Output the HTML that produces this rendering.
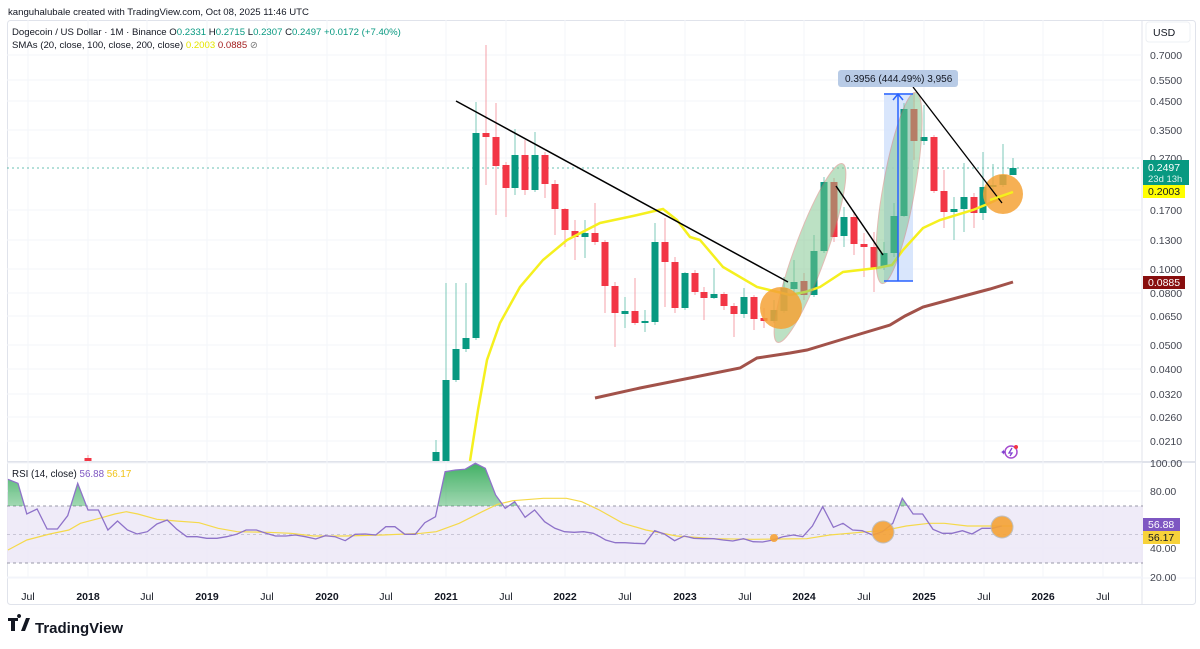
<!DOCTYPE html>
<html><head><meta charset="utf-8"><style>
html,body{margin:0;padding:0;background:#fff;width:1200px;height:649px;overflow:hidden}
svg{display:block;font-family:"Liberation Sans",sans-serif}
</style></head><body>
<svg id="s" width="1200" height="649" viewBox="0 0 1200 649" xmlns="http://www.w3.org/2000/svg">
<defs>
<linearGradient id="gf" x1="0" y1="0" x2="0" y2="1"><stop offset="0" stop-color="#22a34a" stop-opacity="0.85"/><stop offset="1" stop-color="#22a34a" stop-opacity="0.05"/></linearGradient>
<clipPath id="ob"><rect x="0" y="462" width="1143" height="44"/></clipPath>
<clipPath id="mp"><rect x="7" y="20" width="1135" height="441"/></clipPath>
</defs>
<text x="8" y="15" font-size="9.6" fill="#131722">kanguhalubale created with TradingView.com, Oct 08, 2025 11:46 UTC</text>
<rect x="7.5" y="20.5" width="1188" height="584" fill="none" stroke="#e0e3eb" rx="3"/>
<line x1="1142" y1="20" x2="1142" y2="605" stroke="#e0e3eb"/>
<line x1="7" y1="462" x2="1195" y2="462" stroke="#e0e3eb" stroke-width="2"/>
<line x1="7" y1="578" x2="1195" y2="578" stroke="#f0f3fa"/>
<g id="grid" stroke="#f3f5fa" stroke-width="1"></g>
<rect x="7" y="506" width="1136" height="57" fill="#ece8f7" opacity="0.85"/>
<line x1="7" y1="506" x2="1143" y2="506" stroke="#9a98a8" stroke-dasharray="3,3"/>
<line x1="7" y1="534.5" x2="1143" y2="534.5" stroke="#b0aec0" stroke-dasharray="3,3" opacity="0.6"/>
<line x1="7" y1="563" x2="1143" y2="563" stroke="#9a98a8" stroke-dasharray="3,3"/>
<line x1="7" y1="168" x2="1142" y2="168" stroke="#089981" stroke-dasharray="2,3" opacity="0.6"/>
<g id="main" clip-path="url(#mp)"></g>
<g id="rsi"></g>
<text x="12" y="35" font-size="9.6" fill="#131722">Dogecoin / US Dollar · 1M · Binance <tspan fill="#131722">O</tspan><tspan fill="#089981">0.2331</tspan> <tspan fill="#131722">H</tspan><tspan fill="#089981">0.2715</tspan> <tspan fill="#131722">L</tspan><tspan fill="#089981">0.2307</tspan> <tspan fill="#131722">C</tspan><tspan fill="#089981">0.2497</tspan> <tspan fill="#089981">+0.0172 (+7.40%)</tspan></text>
<text x="12" y="48" font-size="9.6" fill="#131722">SMAs (20, close, 100, close, 200, close) <tspan fill="#e6e600">0.2003</tspan> <tspan fill="#a31d1d">0.0885</tspan> <tspan fill="#777">⊘</tspan></text>
<text x="12" y="477" font-size="9.8" fill="#131722">RSI (14, close) <tspan fill="#7e57c2">56.88</tspan> <tspan fill="#f0c419">56.17</tspan></text>
<rect x="1146" y="22" width="44" height="20" rx="3" fill="#fff" stroke="#eef0f4"/>
<text x="1153" y="36" font-size="10.5" fill="#131722">USD</text>
<g id="ax" font-size="10.5" fill="#434651"></g>
<rect x="1143" y="160" width="46" height="25" fill="#089981"/>
<text x="1148" y="171" font-size="10.5" fill="#fff">0.2497</text>
<text x="1148" y="182" font-size="9.5" fill="#d8f3ee">23d 13h</text>
<rect x="1143" y="185" width="42" height="13" fill="#ffff00"/>
<text x="1148" y="195" font-size="10.5" fill="#131722">0.2003</text>
<rect x="1143" y="276" width="42" height="13" fill="#880e0e"/>
<text x="1148" y="286" font-size="10.5" fill="#fff">0.0885</text>
<rect x="1143" y="518" width="37" height="13" fill="#7e57c2"/>
<text x="1148" y="528" font-size="10.5" fill="#fff">56.88</text>
<rect x="1143" y="531" width="37" height="13" fill="#f7d23a"/>
<text x="1148" y="541" font-size="10.5" fill="#131722">56.17</text>
<rect x="838" y="70" width="120" height="17" rx="3" fill="#b8cbe6"/>
<text x="845" y="82" font-size="10" fill="#131722">0.3956 (444.49%) 3,956</text>
<g transform="translate(1011,452)"><circle r="6" fill="none" stroke="#a64dd0" stroke-width="1.5"/><path d="M1,-4 L-2,1 L1,1 L-1,4" stroke="#7e3fd0" fill="none" stroke-width="1.3"/><circle cx="5" cy="-5" r="2" fill="#f23645"/><text x="-11" y="3" font-size="8" fill="#7e3fd0">✦</text></g>
<g transform="translate(8,618)"><path d="M0,0 h10 v3 h-3 v10 h-4 v-10 h-3z M11,0 a2,2 0 1 1 0.1,0 z" fill="#131722"/><path d="M13,13 l5,-13 h4 l-5,13z" fill="#131722"/></g>
<text x="35" y="633" font-size="15" font-weight="bold" fill="#131722">TradingView</text>
</svg>
<script>
var NS="http://www.w3.org/2000/svg";
function el(p,t,a){var e=document.createElementNS(NS,t);for(var k in a)e.setAttribute(k,a[k]);p.appendChild(e);return e;}
var S=document.getElementById('s'),M=document.getElementById('main'),R=document.getElementById('rsi'),G=document.getElementById('grid'),A=document.getElementById('ax');
var prices=[["0.7000",55],["0.5500",80],["0.4500",101],["0.3500",130],["0.2700",158],["0.1700",210],["0.1300",240],["0.1000",269],["0.0800",293],["0.0650",316],["0.0500",345],["0.0400",369],["0.0320",394],["0.0260",417],["0.0210",441]];
prices.forEach(function(p){el(G,'line',{x1:7,x2:1142,y1:p[1],y2:p[1]});var t=el(A,'text',{x:1150,y:p[1]+4});t.textContent=p[0];});
[["100.00",463],["80.00",491],["40.00",548],["20.00",577]].forEach(function(p){el(G,'line',{x1:7,x2:1142,y1:p[1],y2:p[1]});var t=el(A,'text',{x:1150,y:p[1]+4});t.textContent=p[0];});
var tl=[["Jul",28,0],["2018",88,1],["Jul",147,0],["2019",207,1],["Jul",267,0],["2020",327,1],["Jul",386,0],["2021",446,1],["Jul",506,0],["2022",565,1],["Jul",625,0],["2023",685,1],["Jul",745,0],["2024",804,1],["Jul",864,0],["2025",924,1],["Jul",984,0],["2026",1043,1],["Jul",1103,0]];
tl.forEach(function(p){el(G,'line',{x1:p[1],x2:p[1],y1:20,y2:578});var t=el(A,'text',{x:p[1],y:600,'text-anchor':'middle','font-weight':p[2]?'bold':'normal',fill:'#131722'});t.textContent=p[0];});
var C=[[88,458,461,455,465,0],[436,452,461,440,465,1],[446,380,461,283,465,1],[456,349,380,283,382,1],[466,338,349,283,352,1],[476,133,338,102,340,1],[486,133,137,45,185,0],[496,137,166,103,215,0],[506,165,188,162,217,0],[515,155,188,129,195,1],[525,155,190,140,195,0],[535,155,190,132,192,1],[545,155,184,152,198,0],[555,184,209,180,235,0],[565,209,230,208,247,0],[575,231,237,220,260,0],[585,233,237,220,258,1],[595,233,242,203,245,0],[605,242,286,240,313,0],[615,286,313,282,347,0],[625,311,314,297,328,1],[635,311,323,278,325,0],[645,321,323,310,332,1],[655,242,322,223,325,1],[665,242,262,218,307,0],[675,262,308,257,313,0],[685,273,308,272,310,1],[695,273,292,270,295,0],[704,292,298,287,320,0],[714,294,298,268,299,1],[724,294,306,292,310,0],[734,306,314,303,337,0],[744,297,314,288,318,1],[754,297,319,295,330,0],[764,318,321,308,328,0],[774,310,321,300,323,1],[784,288,311,277,313,1],[794,282,289,260,293,1],[804,281,295,273,300,0],[814,251,295,235,297,1],[824,182,251,177,253,1],[834,182,237,178,242,0],[844,217,236,207,247,1],[854,217,244,213,255,0],[864,244,247,233,277,0],[874,247,268,232,292,0],[884,253,267,242,270,1],[894,216,253,203,257,1],[904,109,216,103,217,1],[914,109,141,93,160,0],[924,137,141,105,145,1],[934,137,191,135,193,0],[944,191,212,170,228,0],[954,209,212,197,240,1],[964,197,209,163,232,1],[974,197,213,193,228,0],[983,187,213,152,220,1],[993,185,187,164,190,1],[1003,175,185,144,187,1],[1013,168,175,158,175,1]];
el(M,'rect',{x:884,y:93,width:29,height:188,fill:'#cfe0fb',opacity:0.8});
C.forEach(function(c){var col=c[5]?'#089981':'#f23645';
el(M,'line',{x1:c[0],x2:c[0],y1:c[3],y2:c[4],stroke:c[5]?'#7cc9b9':'#f4a0a8','stroke-width':1});
el(M,'rect',{x:c[0]-3.5,y:c[1],width:7,height:Math.max(1.5,c[2]-c[1]),fill:col});});
function pl(g,pts,a){a.points=pts.map(function(p){return p.join(',')}).join(' ');a.fill=a.fill||'none';return el(g,'polyline',a);}
pl(M,[[470,461],[478,410],[487,360],[500,323],[520,287],[543,260],[567,240],[600,223],[633,216],[663,209],[677,220],[690,237],[700,240],[723,267],[757,287],[790,295],[805,292],[820,287],[843,272],[877,268],[892,265],[903,250],[923,228],[940,220],[973,210],[990,203],[1013,192]],{stroke:'#f5f01f','stroke-width':2.5});
pl(M,[[595,398],[640,388],[690,378],[740,368],[757,358],[790,353],[807,350],[850,337],[890,325],[905,316],[923,307],[960,297],[990,289],[1013,282]],{stroke:'#a2524a','stroke-width':3});
el(M,'ellipse',{cx:810,cy:253,rx:16,ry:95,transform:'rotate(20 810 253)',fill:'#7cc48a',opacity:0.5,stroke:'#c47a6a'});
el(M,'ellipse',{cx:899,cy:188,rx:16,ry:97,transform:'rotate(10 899 188)',fill:'#7cc48a',opacity:0.5,stroke:'#c47a6a'});
el(M,'circle',{cx:781,cy:308,r:21,fill:'#f5a236',opacity:0.85});
el(M,'circle',{cx:1003,cy:194,r:20,fill:'#f5a236',opacity:0.85});
el(M,'line',{x1:884,x2:913,y1:94,y2:94,stroke:'#2962ff','stroke-width':1.5});
el(M,'line',{x1:884,x2:913,y1:281,y2:281,stroke:'#2962ff','stroke-width':1.5});
el(M,'line',{x1:898,x2:898,y1:94,y2:281,stroke:'#2962ff','stroke-width':1.5});
pl(M,[[893,100],[898,94],[903,100]],{stroke:'#2962ff','stroke-width':1.5});
el(M,'line',{x1:456,y1:101,x2:788,y2:282,stroke:'#000','stroke-width':1.5});
el(M,'line',{x1:836,y1:186,x2:883,y2:255,stroke:'#000','stroke-width':1.5});
el(M,'line',{x1:913,y1:87,x2:1002,y2:203,stroke:'#000','stroke-width':1.3});
el(M,'line',{x1:990,y1:200,x2:1013,y2:192,stroke:'#f5f01f','stroke-width':2.5});
var r5=[[20,118],[47,130],[70,222],[97,207],[123,267],[150,267],[177,227],[203,130],[230,210],[257,210],[282,270],[307,243],[333,270],[358,282],[385,275],[410,252],[437,240],[462,268],[488,290],[515,290],[540,295],[567,295],[592,290],[618,283],[643,270],[670,270],[695,280],[720,288],[747,288],[772,285],[798,290],[825,297],[850,287],[875,290],[902,302],[928,283],[955,282],[982,285],[1008,260],[1032,260],[1058,283],[1085,283],[1110,248],[1138,230],[1163,95],[1190,90],[1215,88],[1242,70],[1268,85],[1295,165],[1320,205],[1345,185],[1372,232],[1397,210],[1423,245],[1450,265],[1475,275],[1500,277],[1525,275],[1550,280]];
var r6=[[0,290],[15,300],[40,308],[65,308],[90,310],[117,311],[143,272],[168,282],[195,302],[220,288],[245,295],[270,296],[297,296],[322,300],[347,303],[375,296],[400,305],[425,306],[452,300],[478,290],[505,285],[530,290],[555,258],[582,200],[610,262],[635,250],[660,270],[685,272],[712,285],[738,275],[765,250],[790,175],[818,222],[843,222],[870,268],[895,280],[920,280],[947,272],[972,282],[998,265],[1025,265],[1050,258]];
var rp=r5.map(function(p){return [(p[0]/2.613).toFixed(1),(440+p[1]/3).toFixed(1)]}).concat(r6.map(function(p){return [(600+p[0]/2.613).toFixed(1),(440+p[1]/3).toFixed(1)]}));
rp[0][0]=8;
var fillp=[[8,506]].concat(rp).concat([[rp[rp.length-1][0],506]]);
var fg=el(R,'g',{'clip-path':'url(#ob)'});
el(fg,'polygon',{points:fillp.map(function(p){return p.join(',')}).join(' '),fill:'url(#gf)'});
var m5=[[20,330],[70,300],[130,282],[180,270],[210,250],[260,235],[300,222],[330,215],[360,222],[410,238],[460,243],[520,248],[570,265],[620,275],[700,277],[760,280],[820,288],[900,288],[1000,285],[1100,280],[1140,275],[1200,250],[1260,215],[1300,193],[1340,182],[1420,175],[1480,175],[1520,185],[1566,210]];
var m6=[[60,250],[120,270],[200,288],[300,296],[400,298],[540,296],[600,285],[700,275],[740,272],[800,258],[860,250],[900,250],[960,258],[1080,258]];
var mp=m5.map(function(p){return [(p[0]/2.613).toFixed(1),(440+p[1]/3).toFixed(1)]}).concat(m6.map(function(p){return [(600+p[0]/2.613).toFixed(1),(440+p[1]/3).toFixed(1)]}));
mp[0][0]=8;
pl(R,mp,{stroke:'#f5d94a','stroke-width':1.2});
pl(R,rp,{stroke:'#8e72c9','stroke-width':1.3});
el(R,'circle',{cx:774,cy:538,r:4,fill:'#f5a236',opacity:0.9});
el(R,'ellipse',{cx:883,cy:532,rx:11,ry:11,fill:'#f5a236',opacity:0.9,stroke:'#bbb'});
el(R,'ellipse',{cx:1002,cy:527,rx:11,ry:11,fill:'#f5a236',opacity:0.9,stroke:'#bbb'});
</script>
</body></html>
